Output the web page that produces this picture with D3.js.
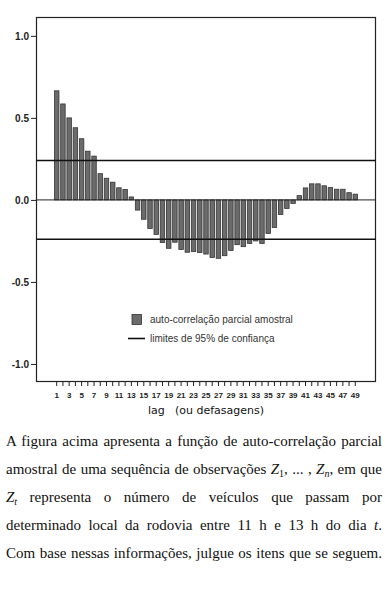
<!DOCTYPE html>
<html>
<head>
<meta charset="utf-8">
<script src="https://cdn.jsdelivr.net/npm/d3@7"></script>
<style>
  body { margin: 0; background: #fff; overflow: hidden; }
  #chart { position: absolute; left: 0; top: 0; }
  #caption {
    position: absolute; left: 6px; top: 427px; width: 376px;
    font-family: "Liberation Serif", "Times New Roman", serif;
    font-size: 15px; line-height: 28px; color: #111;
    text-align: justify; text-align-last: justify;
  }
  #caption sub { font-size: 10px; line-height: 0; vertical-align: -3px; }
</style>
</head>
<body>
<div id="chart"></div>
<div id="caption">
A figura acima apresenta a função de auto-correlação parcial<br>
amostral de uma sequência de observações <i>Z</i><sub>1</sub>, ... , <i>Z</i><sub><i>n</i></sub>, em que<br>
<i>Z</i><sub><i>t</i></sub> representa o número de veículos que passam por<br>
determinado local da rodovia entre 11 h e 13 h do dia <i>t</i>.<br>
Com base nessas informações, julgue os itens que se seguem.
</div>
<script>
// dados
const lags = d3.range(1, 50);
const pacf = [
  0.665, 0.585, 0.50, 0.44, 0.373, 0.297, 0.267, 0.16, 0.132, 0.108,
  0.074, 0.063, 0.018, -0.062, -0.118, -0.174, -0.21, -0.26, -0.295, -0.258,
  -0.302, -0.319, -0.314, -0.321, -0.33, -0.351, -0.356, -0.34, -0.308, -0.273,
  -0.285, -0.265, -0.25, -0.265, -0.204, -0.168, -0.089, -0.052, -0.021, 0.026,
  0.073, 0.098, 0.098, 0.086, 0.075, 0.065, 0.065, 0.044, 0.035
];
const confLimits = [0.24, -0.24];
const yTicks = [1.0, 0.5, 0.0, -0.5, -1.0];
const legendLabels = ["auto-correlação parcial amostral", "limites de 95% de confiança"];
const xTitle = ["lag", "(ou defasagens)"];

const width = 385;
const height = 425;
const mLeft = 36, mRight = 376, mTop = 17, mBottom = 382;

let svg = d3.select("#chart")
    .append("svg")
    .attr("width", width)
    .attr("height", height);

const x = d3.scaleBand()
    .domain(lags)
    .range([mLeft, mRight])
    .paddingInner(0.28)
    .paddingOuter(2.97);

const y = d3.scaleLinear()
    .domain([-1.11, 1.115])
    .range([mBottom, mTop]);

// moldura
svg.append("rect")
    .attr("x", mLeft + 0.5)
    .attr("y", mTop + 0.5)
    .attr("width", mRight - mLeft - 1)
    .attr("height", mBottom - mTop - 1)
    .attr("fill", "none")
    .attr("stroke", "#222")
    .attr("stroke-width", 1.2);

// barras
svg.append("g")
    .selectAll("rect")
    .data(lags)
    .join("rect")
    .attr("x", d => x(d))
    .attr("width", x.bandwidth())
    .attr("y", (d, i) => y(Math.max(0, pacf[i])))
    .attr("height", (d, i) => Math.abs(y(pacf[i]) - y(0)))
    .attr("fill", "#6b6b6b")
    .attr("stroke", "#333")
    .attr("stroke-width", 0.8);

// linha do zero
svg.append("line")
    .attr("x1", mLeft).attr("x2", mRight)
    .attr("y1", y(0)).attr("y2", y(0))
    .attr("stroke", "#222")
    .attr("stroke-width", 1);

// limites de confiança
svg.append("g")
    .selectAll("line")
    .data(confLimits)
    .join("line")
    .attr("x1", mLeft).attr("x2", mRight)
    .attr("y1", d => y(d)).attr("y2", d => y(d))
    .attr("stroke", "#111")
    .attr("stroke-width", 1.6);

// eixo y
const yAxis = svg.append("g")
    .attr("transform", "translate(" + mLeft + ",0)")
    .call(d3.axisLeft(y).tickValues(yTicks).tickSize(5).tickPadding(2)
        .tickFormat(d => d.toFixed(1)));
yAxis.select(".domain").remove();
yAxis.selectAll("text")
    .attr("font-family", "'Liberation Sans', Arial, sans-serif")
    .attr("font-size", 10)
    .attr("font-weight", "bold")
    .attr("fill", "#222");
yAxis.selectAll("line").attr("stroke", "#222");

// eixo x
const xAxis = svg.append("g")
    .attr("transform", "translate(0," + mBottom + ")")
    .call(d3.axisBottom(x).tickSize(4).tickPadding(6)
        .tickFormat(d => d % 2 === 1 ? d : ""));
xAxis.select(".domain").remove();
xAxis.selectAll("text")
    .attr("font-family", "'Liberation Sans', Arial, sans-serif")
    .attr("font-size", 8)
    .attr("font-weight", "bold")
    .attr("fill", "#222");
xAxis.selectAll("line").attr("stroke", "#222");

// título do eixo x
svg.append("text")
    .attr("x", 148).attr("y", 414)
    .attr("font-family", "'DejaVu Sans', sans-serif")
    .attr("font-size", 11)
    .attr("fill", "#111")
    .text(xTitle[0]);
svg.append("text")
    .attr("x", 175).attr("y", 414)
    .attr("font-family", "'DejaVu Sans', sans-serif")
    .attr("font-size", 11)
    .attr("fill", "#111")
    .text(xTitle[1]);

// legenda
const legend = svg.append("g");
legend.append("rect")
    .attr("x", 132).attr("y", 314.5)
    .attr("width", 9.5).attr("height", 10)
    .attr("fill", "#6b6b6b")
    .attr("stroke", "#333")
    .attr("stroke-width", 0.8);
legend.append("line")
    .attr("x1", 128).attr("x2", 145)
    .attr("y1", 338.5).attr("y2", 338.5)
    .attr("stroke", "#111")
    .attr("stroke-width", 1.6);
legend.selectAll("text")
    .data(legendLabels)
    .join("text")
    .attr("x", 150)
    .attr("y", (d, i) => 323 + i * 18.5)
    .attr("font-family", "'Liberation Sans', Arial, sans-serif")
    .attr("font-size", 10)
    .attr("fill", "#333")
    .text(d => d);
</script>
</body>
</html>
